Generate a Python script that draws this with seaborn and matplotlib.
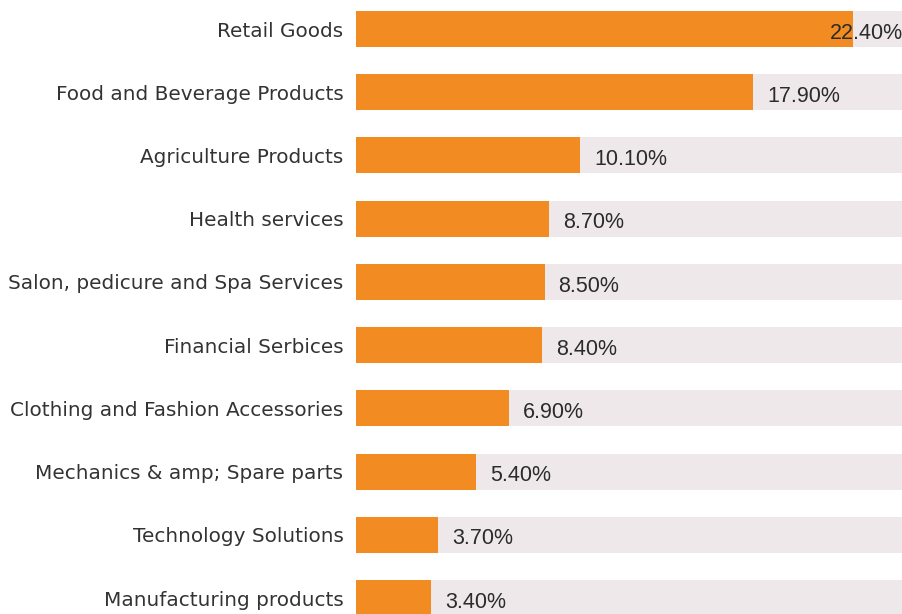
import matplotlib
matplotlib.use("Agg")
import matplotlib.pyplot as plt
import seaborn as sns
import pandas as pd

# Datos del grafico
categories = ["Retail Goods", "Food and Beverage Products", "Agriculture Products",
              "Health services", "Salon, pedicure and Spa Services", "Financial Serbices",
              "Clothing and Fashion Accessories", "Mechanics & amp; Spare parts",
              "Technology Solutions", "Manufacturing products"]
shares = [22.4, 17.9, 10.1, 8.7, 8.5, 8.4, 6.9, 5.4, 3.7, 3.4]
track_max = 25  # barra de fondo

ORANGE = "#F28C22"
TRACK = "#EEE8EA"

df = pd.DataFrame({"category": categories, "share": shares, "track": [track_max] * len(categories)})

sns.set_style("white")
fig = plt.figure(figsize=(9.03, 6.14), dpi=100)
ax = fig.add_axes([356 / 903, 0, 1 - 356 / 903, 1])

sns.barplot(data=df, y="category", x="track", color=TRACK, width=0.57,
            saturation=1, ax=ax, orient="h", linewidth=0)
sns.barplot(data=df, y="category", x="share", color=ORANGE, width=0.57,
            saturation=1, ax=ax, orient="h", linewidth=0)

ax.set_xlim(0, 24.65)
ax.set_ylim(9.253, -0.459)
ax.set_xlabel("")
ax.set_ylabel("")
ax.set_xticks([])
sns.despine(ax=ax, left=True, bottom=True)
ax.tick_params(axis="y", length=0, pad=9)
for lab in ax.get_yticklabels():
    lab.set_fontfamily("DejaVu Sans")
    lab.set_fontsize(14.4)
    lab.set_color("#333333")

# Etiquetas de valores
fig.canvas.draw()
renderer = fig.canvas.get_renderer()
for i, v in enumerate(shares):
    t = ax.annotate(f"{v:.2f}%", xy=(v, i), xytext=(10, -3), textcoords="offset points",
                    ha="left", va="center", fontsize=15.5, fontfamily="Liberation Sans",
                    color="#2b2b2b")
    bb = t.get_window_extent(renderer)
    if bb.x1 > fig.bbox.x1:
        t.remove()
        ax.annotate(f"{v:.2f}%", xy=(1, i), xycoords=("axes fraction", "data"),
                    xytext=(0, -3), textcoords="offset points", ha="right", va="center",
                    fontsize=15.5, fontfamily="Liberation Sans", color="#2b2b2b")

fig.savefig("out.png", dpi=100)
